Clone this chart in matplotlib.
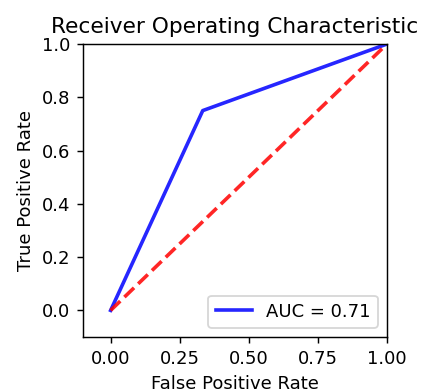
import matplotlib
matplotlib.use("Agg")
import matplotlib.pyplot as plt

fpr = [0.0, 1/3, 1.0]
tpr = [0.0, 0.75, 1.0]
roc_auc = 0.71
diag = [0, 1]

fig = plt.figure(figsize=(424/130, 392/130), dpi=130)
ax = fig.add_axes([83/424, 55/392, 304/424, 293/392])

ax.set_title('Receiver Operating Characteristic')
ax.plot(fpr, tpr, 'b', lw=2, alpha=0.85, label='AUC = %0.2f' % roc_auc)
ax.legend(loc='lower right')
ax.plot(diag, diag, 'r--', lw=2, alpha=0.85)
ax.set_xlim([-0.1, 1.0])
ax.set_ylim([-0.1, 1.0])
ax.set_ylabel('True Positive Rate')
ax.set_xlabel('False Positive Rate')

fig.savefig('out.png', dpi=130)
